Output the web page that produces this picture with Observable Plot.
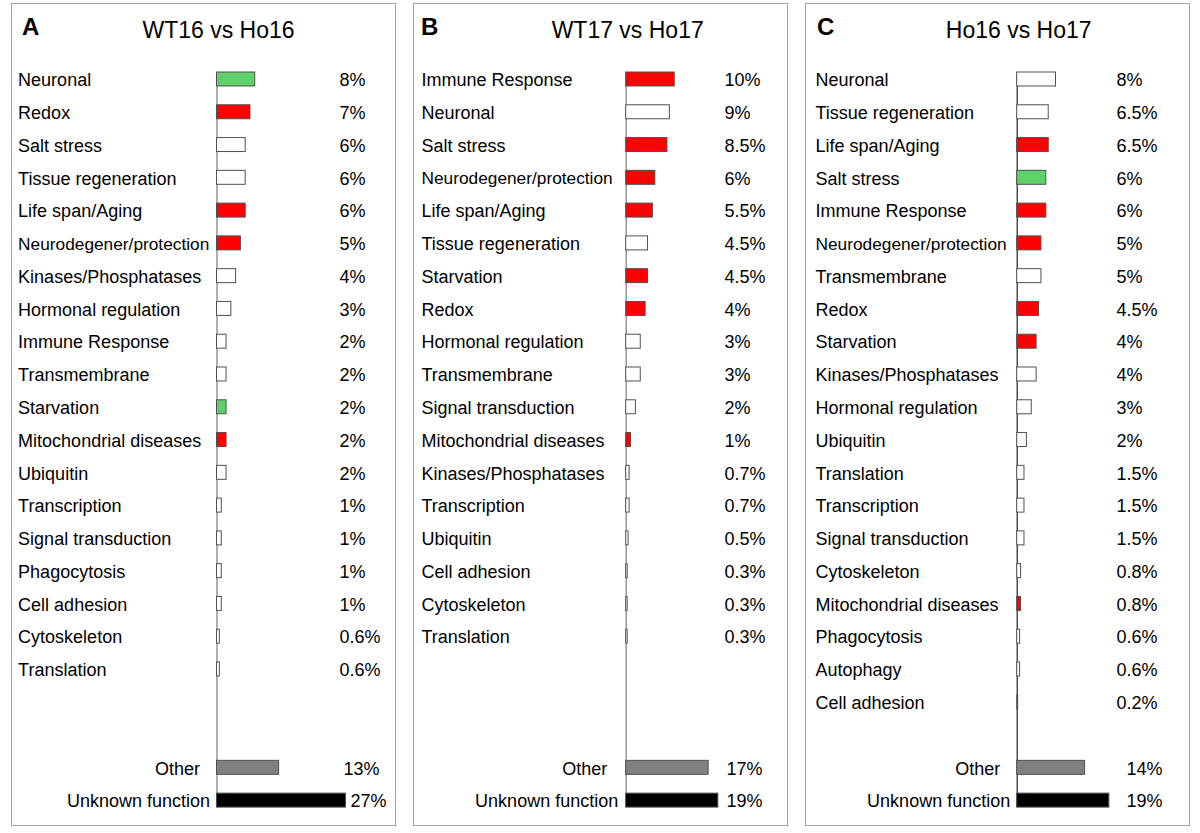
<!DOCTYPE html>
<html><head><meta charset="utf-8">
<script src="https://cdn.jsdelivr.net/npm/d3@7"></script>
<script src="https://cdn.jsdelivr.net/npm/@observablehq/plot@0.6"></script>
<style>
body{margin:0;background:#fff;font-family:"Liberation Sans",Arial,sans-serif;color:#000;}
.panel{position:absolute;top:3px;height:821px;border:1px solid #a3a3a3;background:#fff;}
.letter{position:absolute;font-weight:bold;font-size:24px;line-height:24px;top:11px;}
.title{position:absolute;font-size:23px;line-height:23px;top:15px;transform:translateX(-50%);white-space:nowrap;}
.panel svg{position:absolute;left:0;top:0;}
</style></head><body>
<script>
// ---- Data ----
// Panel A: WT16 vs Ho16
const titleA = "WT16 vs Ho16";
const catsA = ["Neuronal","Redox","Salt stress","Tissue regeneration","Life span/Aging","Neurodegener/protection","Kinases/Phosphatases","Hormonal regulation","Immune Response","Transmembrane","Starvation","Mitochondrial diseases","Ubiquitin","Transcription","Signal transduction","Phagocytosis","Cell adhesion","Cytoskeleton","Translation"];
const valsA = [8,7,6,6,6,5,4,3,2,2,2,2,2,1,1,1,1,0.6,0.6];
const regA  = ["down","up","none","none","up","up","none","none","none","none","down","up","none","none","none","none","none","none","none"];
const otherA = 13, unknownA = 27;

// Panel B: WT17 vs Ho17
const titleB = "WT17 vs Ho17";
const catsB = ["Immune Response","Neuronal","Salt stress","Neurodegener/protection","Life span/Aging","Tissue regeneration","Starvation","Redox","Hormonal regulation","Transmembrane","Signal transduction","Mitochondrial diseases","Kinases/Phosphatases","Transcription","Ubiquitin","Cell adhesion","Cytoskeleton","Translation"];
const valsB = [10,9,8.5,6,5.5,4.5,4.5,4,3,3,2,1,0.7,0.7,0.5,0.3,0.3,0.3];
const regB  = ["up","none","up","up","up","none","up","up","none","none","none","up","none","none","none","none","none","none"];
const otherB = 17, unknownB = 19;

// Panel C: Ho16 vs Ho17
const titleC = "Ho16 vs Ho17";
const catsC = ["Neuronal","Tissue regeneration","Life span/Aging","Salt stress","Immune Response","Neurodegener/protection","Transmembrane","Redox","Starvation","Kinases/Phosphatases","Hormonal regulation","Ubiquitin","Translation","Transcription","Signal transduction","Cytoskeleton","Mitochondrial diseases","Phagocytosis","Autophagy","Cell adhesion"];
const valsC = [8,6.5,6.5,6,6,5,5,4.5,4,4,3,2,1.5,1.5,1.5,0.8,0.8,0.6,0.6,0.2];
const regC  = ["none","none","up","down","up","up","none","up","up","none","none","none","none","none","none","none","up","none","none","none"];
const otherC = 14, unknownC = 19;

const otherLabel = "Other", unknownLabel = "Unknown function";

// ---- Layout (page pixels) ----
const panels = [
  {letter:"A", title:titleA, cats:catsA, vals:valsA, reg:regA, other:otherA, unknown:unknownA,
   left:11, width:383, base:204.5, ppp:4.78, labelX:5.6, pctX:327, otherPctX:331, unkPctX:338, otherEnd:-17, unkEnd:-7, letterX:10, rule:"#7a7a7a"},
  {letter:"B", title:titleB, cats:catsB, vals:valsB, reg:regB, other:otherB, unknown:unknownB,
   left:413, width:373, base:211.7, ppp:4.85, labelX:7, pctX:310, otherPctX:312, unkPctX:312, otherEnd:-19, unkEnd:-8, letterX:7, rule:"#7a7a7a"},
  {letter:"C", title:titleC, cats:catsC, vals:valsC, reg:regC, other:otherC, unknown:unknownC,
   left:805, width:383, base:210.7, ppp:4.85, labelX:9, pctX:310, otherPctX:320, unkPctX:320, otherEnd:-17, unkEnd:-7, letterX:11, rule:"#222"}
];

const H = 821, SLOTS = 21, inset = 9.4;
const fmt = v => v + "%";

for (const p of panels) {
  const div = document.createElement("div");
  div.className = "panel";
  div.style.left = p.left + "px";
  div.style.width = p.width + "px";
  document.body.appendChild(div);

  const L = document.createElement("div");
  L.className = "letter"; L.textContent = p.letter; L.style.left = p.letterX + "px";
  const T = document.createElement("div");
  T.className = "title"; T.textContent = p.title; T.style.left = (p.base + 2) + "px";

  const rows = p.cats.map((c, i) => ({key: c, label: c, value: p.vals[i], reg: p.reg[i]}));
  const domain = rows.map(d => d.key);
  for (let i = domain.length; i < SLOTS; i++) domain.push("_gap" + i);
  const otherRow = {key: "__other", label: otherLabel, value: p.other, reg: "other"};
  const unkRow = {key: "__unknown", label: unknownLabel, value: p.unknown, reg: "unknown"};
  domain.push(otherRow.key, unkRow.key);
  const all = [...rows, otherRow, unkRow];

  const chart = Plot.plot({
    width: p.width, height: H,
    marginTop: 58.6, marginBottom: 8.5, marginLeft: 0, marginRight: 0,
    style: {fontFamily: "'Liberation Sans', Arial, sans-serif", fontSize: "18px", background: "transparent", overflow: "visible"},
    x: {type: "linear", domain: [0, 1], range: [p.base, p.base + p.ppp], axis: null},
    y: {type: "band", domain, padding: 0, round: false, axis: null},
    color: {domain: ["up","down","none","other","unknown"], range: ["#ff0000","#5fd16a","#ffffff","#808080","#000000"]},
    marks: [
      Plot.ruleX([0], {stroke: p.rule, strokeWidth: 1.2, insetTop: inset, insetBottom: inset}),
      Plot.barX(all, {x: "value", y: "key", fill: "reg", stroke: "#505050", strokeWidth: 1, insetTop: inset, insetBottom: inset}),
      Plot.text(rows, {y: "key", text: "label", frameAnchor: "left", textAnchor: "start", dx: p.labelX, dy: 1,
        fontSize: d => d.label.length > 22 ? 17.3 : 18}),
      Plot.text(rows, {y: "key", text: d => fmt(d.value), frameAnchor: "left", textAnchor: "start", dx: p.pctX, dy: 1, fontSize: 18}),
      Plot.text([otherRow], {x: 0, y: "key", text: "label", textAnchor: "end", dx: p.otherEnd, dy: 1, fontSize: 18}),
      Plot.text([unkRow], {x: 0, y: "key", text: "label", textAnchor: "end", dx: p.unkEnd, dy: 1, fontSize: 18}),
      Plot.text([otherRow], {y: "key", text: d => fmt(d.value), frameAnchor: "left", textAnchor: "start", dx: p.otherPctX, dy: 1, fontSize: 18}),
      Plot.text([unkRow], {y: "key", text: d => fmt(d.value), frameAnchor: "left", textAnchor: "start", dx: p.unkPctX, dy: 1, fontSize: 18})
    ]
  });
  div.appendChild(chart);
  div.appendChild(L);
  div.appendChild(T);
}
</script>
</body></html>
